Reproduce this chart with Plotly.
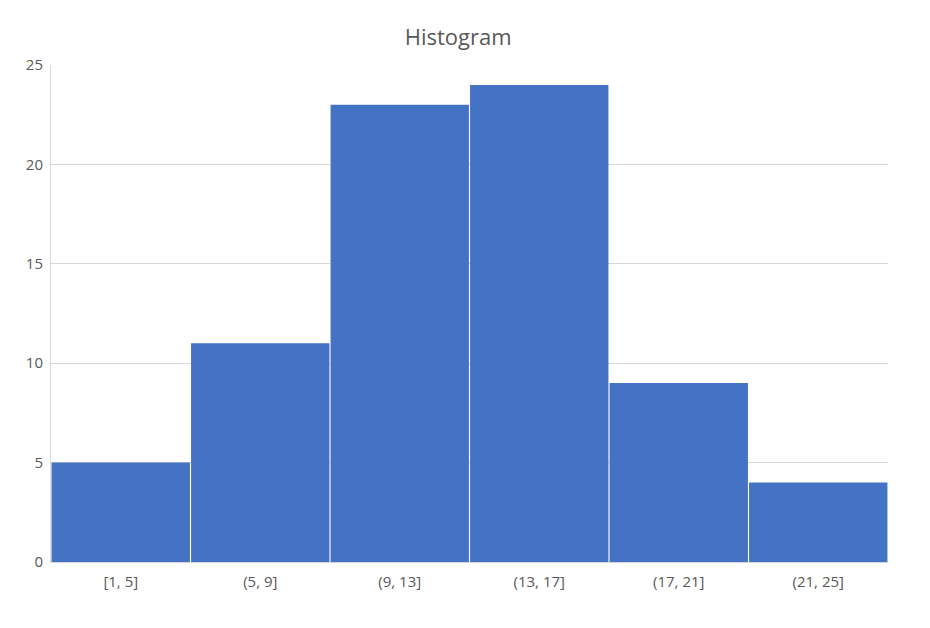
import plotly.graph_objects as go

# histogram bins and counts
bins = ["[1, 5]", "(5, 9]", "(9, 13]", "(13, 17]", "(17, 21]", "(21, 25]"]
counts = [5, 11, 23, 24, 9, 4]
y_ticks = [0, 5, 10, 15, 20, 25]

text_color = "#595959"
grid_color = "#d9d9d9"

fig = go.Figure()
fig.add_trace(go.Bar(
    x=bins,
    y=counts,
    marker=dict(color="#4472c4", line=dict(width=0)),
    hoverinfo="x+y",
))

fig.update_layout(
    title=dict(text="Histogram", x=0.484, xanchor="center", y=0.954, yanchor="middle",
               font=dict(family="Open Sans", size=22, color=text_color)),
    width=930,
    height=628,
    margin=dict(l=43, r=50, t=57, b=74),
    paper_bgcolor="white",
    plot_bgcolor="white",
    bargap=0.008,
    showlegend=False,
    font=dict(family="Open Sans", size=15, color=text_color),
)

fig.update_xaxes(
    showline=True, linecolor=grid_color, linewidth=1,
    showgrid=False, ticks="", ticklabelstandoff=6,
    tickfont=dict(size=15, color=text_color),
)
fig.update_yaxes(
    range=[0, 25], tickvals=y_ticks,
    showgrid=True, gridcolor=grid_color, gridwidth=1,
    showline=True, linecolor=grid_color, linewidth=1,
    zeroline=False, ticks="", ticklabelstandoff=4,
    tickfont=dict(size=15, color=text_color),
)

fig.write_html("out.html")
